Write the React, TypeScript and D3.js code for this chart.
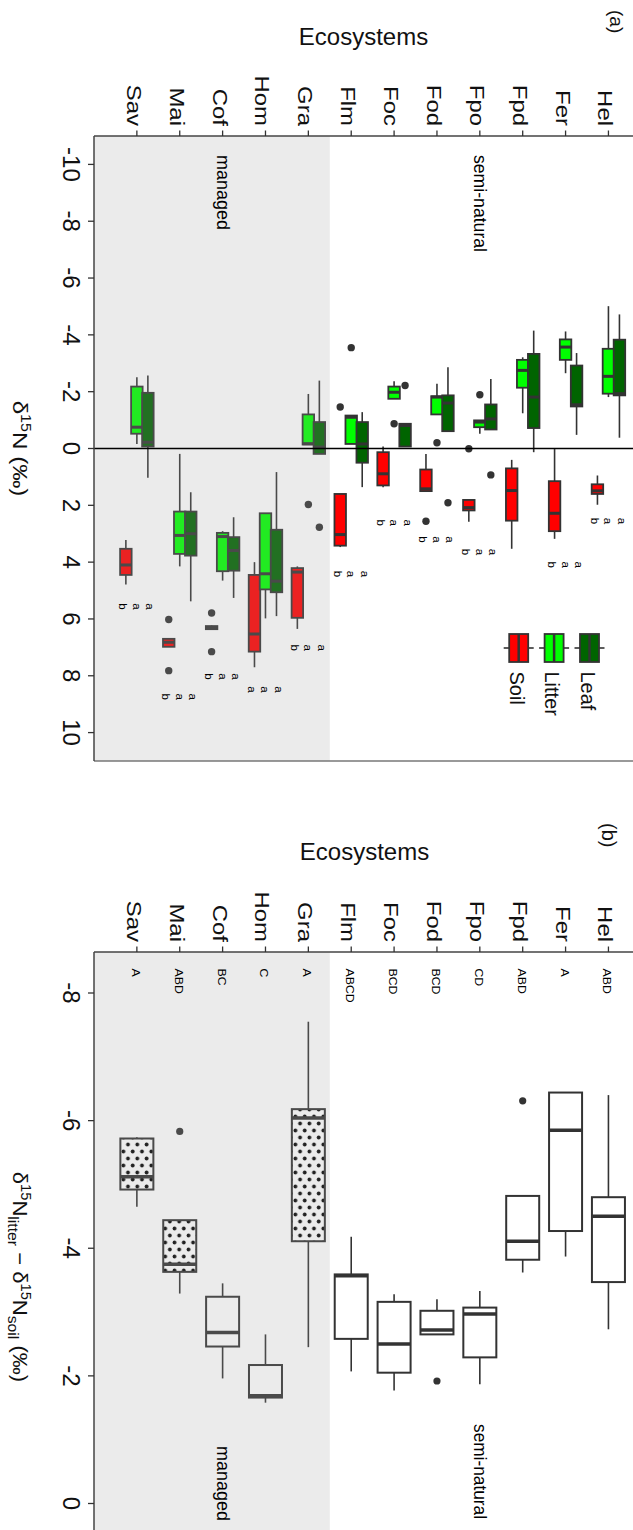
import React from "react";
import * as d3 from "d3";

// ecosystems, bottom-to-top in the original (left-to-right after the 90° turn)
const ecosystems = ["Sav", "Mai", "Cof", "Hom", "Gra", "Flm", "Foc", "Fod", "Fpo", "Fpd", "Fer", "Hel"];
const managedCount = 5;

// panel (a) d15N, each row: [lower whisker, q1, median, q3, upper whisker]
const soilStats = [
  [3.22, 3.53, 4.1, 4.45, 4.79],
  [6.7, 6.7, 6.82, 6.98, 6.98],
  [6.23, 6.25, 6.3, 6.36, 6.38],
  [4.0, 4.45, 6.53, 7.15, 7.7],
  [4.15, 4.21, 4.35, 5.96, 6.35],
  [1.6, 1.6, 3.03, 3.42, 3.47],
  [-0.07, 0.13, 0.89, 1.3, 1.36],
  [0.19, 0.74, 1.42, 1.5, 1.5],
  [1.81, 1.81, 2.08, 2.18, 2.58],
  [0.4, 0.7, 1.48, 2.54, 3.53],
  [0.02, 1.15, 2.28, 2.91, 3.18],
  [0.95, 1.26, 1.49, 1.6, 1.98],
];
const litterStats = [
  [-2.51, -2.18, -0.75, -0.52, -0.16],
  [0.19, 2.22, 3.06, 3.71, 4.15],
  [2.91, 2.97, 3.1, 4.32, 4.65],
  [2.28, 2.28, 4.41, 4.96, 5.98],
  [-1.92, -1.2, -0.17, -0.14, -0.14],
  [-1.16, -1.16, -1.1, -0.16, -0.16],
  [-2.37, -2.18, -1.98, -1.75, -1.75],
  [-2.28, -1.84, -1.81, -1.2, -1.2],
  [-0.99, -0.99, -0.93, -0.75, -0.52],
  [-3.21, -3.12, -2.75, -2.14, -1.24],
  [-4.12, -3.84, -3.57, -3.12, -2.65],
  [-5.01, -3.51, -2.54, -1.93, -1.81],
];
const leafStats = [
  [-2.57, -1.96, -0.22, -0.07, 1.03],
  [1.54, 2.22, 3.0, 3.77, 5.38],
  [2.42, 3.12, 3.59, 4.3, 5.26],
  [0.83, 2.86, 4.67, 5.06, 5.9],
  [-2.39, -0.93, -0.05, 0.19, 0.19],
  [-1.28, -0.93, -0.16, 0.5, 1.36],
  [-0.87, -0.87, -0.81, -0.07, -0.07],
  [-2.86, -1.87, -1.6, -0.61, -0.61],
  [-2.45, -1.55, -1.04, -0.67, -0.67],
  [-4.15, -3.33, -1.81, -0.72, 0.13],
  [-3.36, -2.92, -1.54, -1.48, -0.48],
  [-4.72, -3.83, -1.93, -1.87, -0.38],
];
const soilOutliers = [[], [6.02, 7.82], [5.79, 7.15], [], [], [-1.46], [], [2.56], [0.01], [], [], []];
const litterOutliers = [[], [], [], [], [1.97], [-3.55], [-0.87], [-0.2], [-1.89], [], [], []];
const leafOutliers = [[], [], [], [], [2.77], [], [-2.22], [1.91], [0.93], [], [], []];

const soilLetters = ["b", "b", "b", "a", "b", "b", "b", "b", "b", null, "b", "b"];
const litterLetters = ["a", "a", "a", "a", "a", "a", "a", "a", "a", null, "a", "a"];
const leafLetters = ["a", "a", "a", "a", "a", "a", "a", "a", "a", null, "a", "a"];
const letterAt = [5.45, 8.62, 7.91, 8.37, 6.9, 4.3, 2.5, 3.09, 3.53, null, 3.98, 2.44];

const ticksA = [-10, -8, -6, -4, -2, 0, 2, 4, 6, 8, 10];

// panel (b) d15N litter - d15N soil
const diffStats = [
  [-5.74, -5.72, -5.12, -4.92, -4.65],
  [-4.44, -4.44, -3.75, -3.63, -3.29],
  [-3.45, -3.24, -2.68, -2.46, -1.96],
  [-2.65, -2.17, -1.69, -1.66, -1.58],
  [-7.55, -6.18, -6.04, -4.11, -2.45],
  [-4.18, -3.59, -3.57, -2.58, -2.07],
  [-3.28, -3.16, -2.5, -2.05, -1.77],
  [-3.2, -3.02, -2.72, -2.65, -2.65],
  [-3.33, -3.07, -2.97, -2.29, -1.87],
  [-4.82, -4.82, -4.11, -3.82, -3.62],
  [-6.44, -6.44, -5.85, -4.27, -3.87],
  [-6.4, -4.8, -4.5, -3.47, -2.73],
];
const diffOutliers = [[], [-5.83], [], [], [], [], [], [-1.92], [], [-6.31], [], []];
const diffLetters = ["A", "ABD", "BC", "C", "A", "ABCD", "BCD", "BCD", "CD", "ABD", "A", "ABD"];
const ticksB = [-8, -6, -4, -2, 0];

const compartments = ["Soil", "Litter", "Leaf"];

// styling
const FONT = '"Liberation Sans", Arial, Helvetica, sans-serif';
const W = 633;
const H = 1530;
const left = 94;
const step = 42.87;
const colors: Record<string, string> = { Soil: "#ff0000", Litter: "#00ff00", Leaf: "#006400" };
const ink = "#333333";
const dotted = new Set(["Sav", "Mai", "Gra"]);

const x = d3.scalePoint<string>().domain(ecosystems).range([left, left + 13 * step]).padding(1);
const managedRight = (x(ecosystems[managedCount - 1]) as number) + step / 2;

const topA = 136;
const bottomA = 761;
const yA = d3.scaleLinear().domain([-11, 11]).range([topA, bottomA]);

const topB = 952;
const yB = d3.scaleLinear().domain([-8, 0]).range([993, 1503.5]);

const rot = (px: number, py: number, sx = 1) => `translate(${px},${py}) rotate(90) scale(${sx},1)`;

function Box({ cx, w, s, y, fill, sw, mw }: any) {
  const [lo, q1, med, q3, hi] = s;
  return (
    <g>
      {lo < q1 && <line x1={cx} x2={cx} y1={y(lo)} y2={y(q1)} stroke={ink} strokeWidth={1.6} />}
      {hi > q3 && <line x1={cx} x2={cx} y1={y(q3)} y2={y(hi)} stroke={ink} strokeWidth={1.6} />}
      <rect x={cx - w / 2} y={y(q1)} width={w} height={Math.max(y(q3) - y(q1), 0.5)} fill={fill} stroke={ink} strokeWidth={sw} />
      <line x1={cx - w / 2} x2={cx + w / 2} y1={y(med)} y2={y(med)} stroke={ink} strokeWidth={mw} />
    </g>
  );
}

function PanelA() {
  const stats = [soilStats, litterStats, leafStats];
  const outs = [soilOutliers, litterOutliers, leafOutliers];
  const letters = [soilLetters, litterLetters, leafLetters];
  const dodge = [-11, 0, 11];
  const letterDodge = [-13.5, 0, 13.5];
  return (
    <g>
      <rect x={left} y={topA} width={W - left + 20} height={bottomA - topA} fill="#fff" />
      {ecosystems.map((e, i) => (
        <g key={e}>
          {compartments.map((c, k) => (
            <g key={c}>
              <Box cx={(x(e) as number) + dodge[k]} w={11.5} s={stats[k][i]} y={yA} fill={colors[c]} sw={1.8} mw={3} />
              {outs[k][i].map((v, j) => (
                <circle key={j} cx={(x(e) as number) + dodge[k]} cy={yA(v)} r={3.7} fill={ink} />
              ))}
            </g>
          ))}
        </g>
      ))}
      <rect x={left} y={topA} width={managedRight - left} height={bottomA - topA} fill="#a0a0a0" opacity={0.21} />
      <line x1={left} x2={W + 10} y1={yA(0)} y2={yA(0)} stroke="#000" strokeWidth={1.6} />
      {ecosystems.map((e, i) =>
        letterAt[i] == null
          ? null
          : letters.map((arr, k) => (
              <text key={e + k} transform={rot((x(e) as number) + letterDodge[k] - 4, yA(letterAt[i] as number))} fontSize={11.5} fill="#000">
                {arr[i]}
              </text>
            ))
      )}
      <text transform={rot((x("Cof") as number) - 6, 155)} fontSize={18} textLength={75} lengthAdjust="spacingAndGlyphs">managed</text>
      <text transform={rot((x("Fpo") as number) - 6, 155)} fontSize={18} textLength={97} lengthAdjust="spacingAndGlyphs">semi-natural</text>
      {/* frame and axes */}
      <line x1={left} x2={W + 10} y1={topA} y2={topA} stroke="#444" strokeWidth={1.5} />
      <line x1={left} x2={W + 10} y1={bottomA} y2={bottomA} stroke="#777" strokeWidth={1.6} />
      <line x1={left} x2={left} y1={topA} y2={bottomA} stroke="#444" strokeWidth={1.5} />
      {ticksA.map((t) => (
        <g key={t}>
          <line x1={left - 6} x2={left} y1={yA(t)} y2={yA(t)} stroke={ink} strokeWidth={1.3} />
          <text transform={rot(63, yA(t))} textAnchor="middle" fontSize={24} fill="#111">{t}</text>
        </g>
      ))}
      {ecosystems.map((e) => (
        <g key={e}>
          <line x1={x(e)} x2={x(e)} y1={topA - 5.5} y2={topA} stroke={ink} strokeWidth={1.3} />
          <text transform={rot((x(e) as number) - 10, 126, 1.14)} textAnchor="end" fontSize={21} fill="#111">{e}</text>
        </g>
      ))}
      <text x={363.5} y={44.5} textAnchor="middle" fontSize={24} fill="#111">Ecosystems</text>
      <text transform={rot(610, 10)} fontSize={19} fill="#111">(a)</text>
      <text transform={rot(13, 448.5, 1.15)} textAnchor="middle" fontSize={21} fill="#111">
        δ<tspan dy={-8} fontSize={14}>15</tspan>
        <tspan dy={8}>N (‰)</tspan>
      </text>
      {/* legend */}
      {compartments.map((c, k) => {
        const cx = 518.7 + k * 35.4;
        return (
          <g key={c}>
            <line x1={cx - 15} x2={cx + 15} y1={648} y2={648} stroke={ink} strokeWidth={1.6} />
            <rect x={cx - 9.5} y={634} width={19} height={28} fill={colors[c]} stroke={ink} strokeWidth={1.8} />
            <line x1={cx} x2={cx} y1={634} y2={662} stroke={ink} strokeWidth={2.5} />
            <text transform={rot(cx - 9, 671.5)} fontSize={20} fill="#111">{c}</text>
          </g>
        );
      })}
    </g>
  );
}

function PanelB() {
  return (
    <g>
      <rect x={left} y={topB} width={W - left + 20} height={H - topB + 20} fill="#fff" />
      {ecosystems.map((e, i) => (
        <g key={e}>
          <Box cx={x(e)} w={33} s={diffStats[i]} y={yB} fill={dotted.has(e) ? "url(#dots)" : "#fff"} sw={2} mw={3.5} />
          {diffOutliers[i].map((v, j) => (
            <circle key={j} cx={x(e)} cy={yB(v)} r={3.6} fill={ink} />
          ))}
        </g>
      ))}
      <rect x={left} y={topB} width={managedRight - left} height={H - topB + 20} fill="#a0a0a0" opacity={0.21} />
      {ecosystems.map((e, i) => (
        <text key={e} transform={rot((x(e) as number) - 5, 968.5, 1.07)} fontSize={11.5} fill="#000">{diffLetters[i]}</text>
      ))}
      <text transform={rot((x("Cof") as number) - 6, 1521)} textAnchor="end" fontSize={18} textLength={75} lengthAdjust="spacingAndGlyphs">managed</text>
      <text transform={rot((x("Fpo") as number) - 6, 1519)} textAnchor="end" fontSize={18} textLength={95} lengthAdjust="spacingAndGlyphs">semi-natural</text>
      <line x1={left} x2={W + 10} y1={topB} y2={topB} stroke="#444" strokeWidth={1.5} />
      <line x1={left} x2={left} y1={topB} y2={H + 10} stroke="#444" strokeWidth={1.5} />
      {ticksB.map((t) => (
        <g key={t}>
          <line x1={left - 6} x2={left} y1={yB(t)} y2={yB(t)} stroke={ink} strokeWidth={1.3} />
          <text transform={rot(63, yB(t))} textAnchor="middle" fontSize={24} fill="#111">{t}</text>
        </g>
      ))}
      {ecosystems.map((e) => (
        <g key={e}>
          <line x1={x(e)} x2={x(e)} y1={topB - 5.5} y2={topB} stroke={ink} strokeWidth={1.3} />
          <text transform={rot((x(e) as number) - 10, 942, 1.14)} textAnchor="end" fontSize={21} fill="#111">{e}</text>
        </g>
      ))}
      <text x={364.5} y={860} textAnchor="middle" fontSize={24} fill="#111">Ecosystems</text>
      <text transform={rot(602, 823)} fontSize={20} fill="#111">(b)</text>
      <text transform={rot(13, 1277, 1.05)} textAnchor="middle" fontSize={21} fill="#111">
        δ<tspan dy={-8} fontSize={14}>15</tspan>
        <tspan dy={8}>N</tspan>
        <tspan dy={5} fontSize={15}>litter</tspan>
        <tspan dy={-5}> − δ</tspan>
        <tspan dy={-8} fontSize={14}>15</tspan>
        <tspan dy={8}>N</tspan>
        <tspan dy={5} fontSize={15}>soil</tspan>
        <tspan dy={-5}> (‰)</tspan>
      </text>
    </g>
  );
}

export default function App() {
  return (
    <svg
      width={W}
      height={H}
      viewBox={`0 0 ${W} ${H}`}
      style={{ position: "absolute", left: 0, top: 0, display: "block", background: "#fff" }}
      fontFamily={FONT}
    >
      <defs>
        <pattern id="dots" patternUnits="userSpaceOnUse" width={9.3} height={14}>
          <rect width={9.3} height={14} fill="#fff" />
          <circle cx={2.5} cy={3.5} r={1.9} fill="#000" />
          <circle cx={7.1} cy={10.5} r={1.9} fill="#000" />
        </pattern>
      </defs>
      <rect width={W} height={H} fill="#fff" />
      <PanelA />
      <PanelB />
    </svg>
  );
}
